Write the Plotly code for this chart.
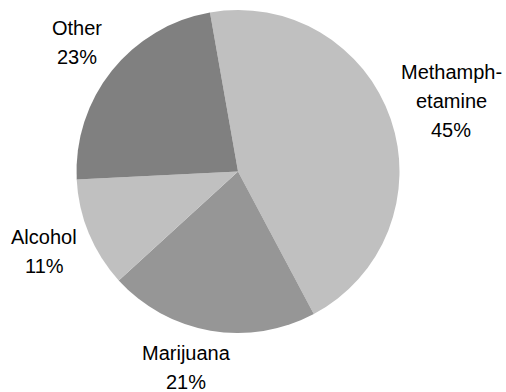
import plotly.graph_objects as go

# ---- data ----
categories = ["Methamphetamine", "Marijuana", "Alcohol", "Other"]
label_lines = [["Methamph-", "etamine"], ["Marijuana"], ["Alcohol"], ["Other"]]
values = [45, 21, 11, 23]
colors = ["#c0c0c0", "#969696", "#c0c0c0", "#808080"]

# ---- layout settings (pixels) ----
W, H = 506, 392
pie_left, pie_right, pie_top, pie_bottom = 76, 400, 10, 333
label_pos = [(451, 79), (186, 360), (44, 243.5), (77, 35)]  # (center x, first baseline)
line_gap = 29
font_size = 20
baseline_to_mid = 7

fig = go.Figure(go.Pie(
    labels=categories,
    values=values,
    sort=False,
    direction="clockwise",
    rotation=-10,
    textinfo="none",
    hoverinfo="none",
    marker=dict(colors=colors, line=dict(width=0)),
    domain=dict(x=[pie_left / W, pie_right / W], y=[1 - pie_bottom / H, 1 - pie_top / H]),
    showlegend=False,
))

annotations = []
for lines, v, (cx, by) in zip(label_lines, values, label_pos):
    all_lines = lines + [f"{v}%"]
    for i, t in enumerate(all_lines):
        y_px = by + i * line_gap - baseline_to_mid
        annotations.append(dict(
            text=t, x=cx / W, y=1 - y_px / H, xref="paper", yref="paper",
            xanchor="center", yanchor="middle", showarrow=False,
            font=dict(family="Liberation Sans, Arial, sans-serif", size=font_size, color="#000000"),
        ))

fig.update_layout(
    width=W, height=H,
    margin=dict(l=0, r=0, t=0, b=0),
    paper_bgcolor="#ffffff", plot_bgcolor="#ffffff",
    annotations=annotations,
)

fig.write_html(
    "out.html",
    config={"displayModeBar": False},
    post_script="document.body.style.margin='0';document.body.style.overflow='hidden';",
)
